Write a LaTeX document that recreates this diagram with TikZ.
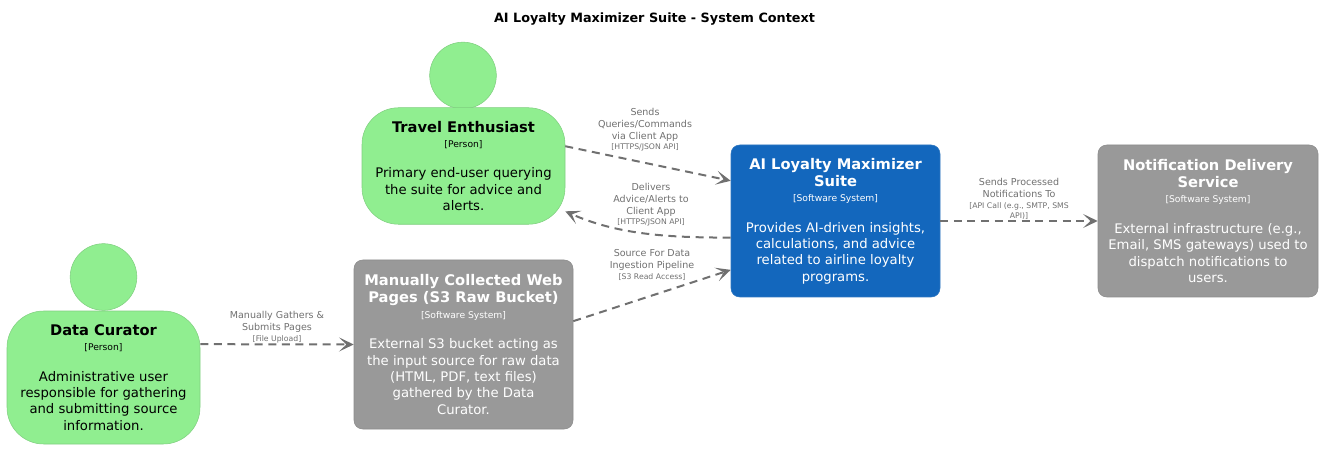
\documentclass[tikz,border=0pt]{standalone}
\usepackage{fontspec}
\setmainfont{DejaVu Sans}
\usetikzlibrary{arrows.meta}
\definecolor{persongreen}{HTML}{90EE90}
\definecolor{personline}{HTML}{7FCF7F}
\definecolor{systemblue}{HTML}{1367BD}
\definecolor{blueline}{HTML}{2F77C0}
\definecolor{extgray}{HTML}{999999}
\definecolor{extline}{HTML}{8C8C8C}
\definecolor{relgray}{HTML}{707070}
% one size per kind of line, the baseline comes from the node font
\newcommand{\headfont}{\fontsize{11}{13}\bfseries\selectfont}
\newcommand{\kindfont}{\fontsize{6.9}{11}\mdseries\selectfont}
\newcommand{\descfont}{\fontsize{9.9}{12.3}\mdseries\selectfont}
\newcommand{\reltech}{\fontsize{5.8}{7.8}\selectfont}
\tikzset{
  boxtext/.style={align=center,inner sep=0pt,font=\descfont},
  personbody/.style={boxtext,draw=personline,fill=persongreen,text=black,rounded corners=27.5pt},
  personhead/.style={circle,draw=personline,fill=persongreen,inner sep=0pt,minimum size=50pt},
  systembox/.style={boxtext,draw=blueline,fill=systemblue,text=white,rounded corners=6.5pt},
  extbox/.style={boxtext,draw=extline,fill=extgray,text=white,rounded corners=6.5pt},
  rel/.style={draw=relgray,line width=1.5pt,dash pattern=on 6pt off 4.2pt,-{Stealth[length=11pt,width=10.5pt,inset=5.5pt]}},
  rellab/.style={text=relgray,align=center,inner sep=0pt,font=\fontsize{7.15}{9}\selectfont}
}
\begin{document}
\begin{tikzpicture}[x=0.75pt,y=-0.75pt]
  \useasboundingbox (0,0) rectangle (1322,449);
  \node (title) at (654.5,19.5) {\fontsize{9.6}{12}\bfseries\selectfont AI Loyalty Maximizer Suite - System Context};

  % people
  \node[personhead] (curatorhead) at (103.5,277) {};
  \node[personbody,minimum width=144.75pt,minimum height=99.75pt] (curator) at (103.5,377.5)
    {\headfont Data Curator\\[-1pt]\kindfont [Person]\\[10.7pt]Administrative user\\responsible for gathering\\and submitting source\\information.};
  \node[personhead] (travelerhead) at (463,75.5) {};
  \node[personbody,minimum width=152.25pt,minimum height=87.4pt] (traveler) at (463.5,166)
    {\headfont Travel Enthusiast\\[-1pt]\kindfont [Person]\\[10.7pt]Primary end-user querying\\the suite for advice and\\alerts.};

  % systems
  \node[extbox,minimum width=164.25pt,minimum height=126.75pt] (rawbucket) at (463.5,344.5)
    {\headfont Manually Collected Web\\[0.7pt]\headfont Pages (S3 Raw Bucket)\\[-1pt]\kindfont [Software System]\\[10.7pt]External S3 bucket acting as\\the input source for raw data\\(HTML, PDF, text files)\\gathered by the Data\\Curator.};
  \node[systembox,minimum width=156.75pt,minimum height=114pt] (suite) at (835.5,221)
    {\headfont AI Loyalty Maximizer\\[0.7pt]\headfont Suite\\[-1pt]\kindfont [Software System]\\[10.7pt]Provides AI-driven insights,\\calculations, and advice\\related to airline loyalty\\programs.};
  \node[extbox,minimum width=165pt,minimum height=114pt] (notifier) at (1208,221)
    {\headfont Notification Delivery\\[0.7pt]\headfont Service\\[-1pt]\kindfont [Software System]\\[10.7pt]External infrastructure (e.g.,\\Email, SMS gateways) used to\\dispatch notifications to\\users.};

  % relations
  \draw[rel] (curator.19) -- (rawbucket.west);
  \draw[rel] (traveler.11) -- (suite.159.5);
  \draw[rel] (suite.189.8) to[out=180,in=-24,looseness=0.9] (traveler.-24.6);
  \draw[rel] (rawbucket.12.6) -- (suite.205.1);
  \draw[rel] (suite.east) -- (notifier.west);

  \node[rellab] (gatherlab) at (277,327) {Manually Gathers \&\\Submits Pages\\[-1pt]\reltech [File Upload]};
  \node[rellab] (querylab) at (645,129.5) {Sends\\Queries/Commands\\via Client App\\[-1pt]\reltech [HTTPS/JSON API]};
  \node[rellab] (advicelab) at (651,204.5) {Delivers\\Advice/Alerts to\\Client App\\[-1pt]\reltech [HTTPS/JSON API]};
  \node[rellab] (sourcelab) at (652,265) {Source For Data\\Ingestion Pipeline\\[-1pt]\reltech [S3 Read Access]};
  \node[rellab] (notifylab) at (1019,199) {Sends Processed\\Notifications To\\[-1pt]\reltech [API Call (e.g., SMTP, SMS\\[-1.5pt]\reltech API)]};
\end{tikzpicture}
\end{document}
